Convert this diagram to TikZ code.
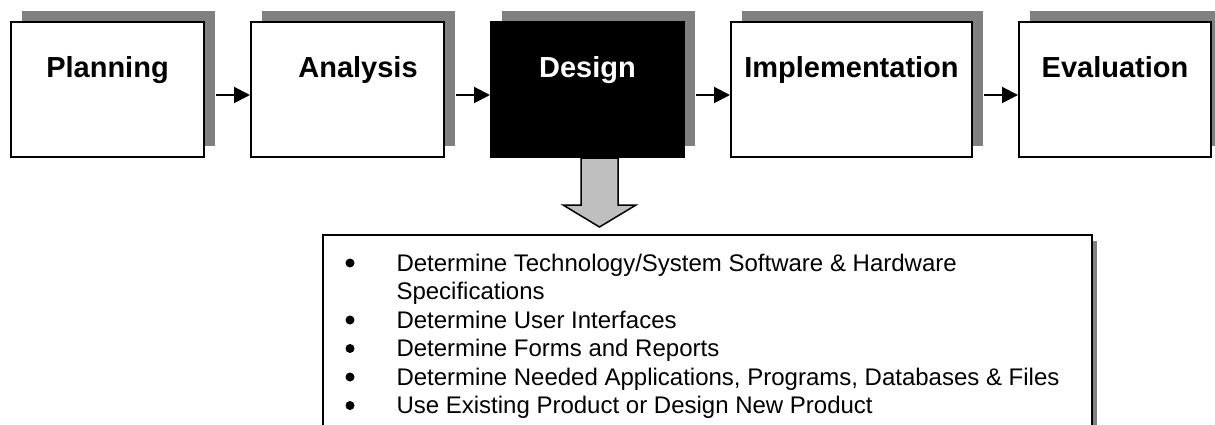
\documentclass[tikz,border=0pt]{standalone}
\usepackage{fontspec}
\setmainfont{Liberation Sans}
\usetikzlibrary{arrows.meta,shadows}

\definecolor{shadowgray}{gray}{0.5}
\definecolor{arrowgray}{gray}{0.75}

\tikzset{
    stagebox/.style={draw=black, line width=2pt, fill=white, inner sep=0pt,
        minimum height=135pt,
        drop shadow={shadow xshift=11pt, shadow yshift=11pt,
            fill=shadowgray, opacity=1}},
    stagetext/.style={anchor=base, font=\fontsize{29}{34}\selectfont\bfseries},
    flowarrow/.style={line width=2pt, -{Triangle[length=16pt,width=16pt]}},
    itemtext/.style={anchor=base west, font=\fontsize{24}{28.5}\selectfont},
    itemdot/.style={circle, fill=black, inner sep=0pt, minimum size=9pt}
}

\begin{document}
\begin{tikzpicture}[x=1pt, y=-1pt]
    \useasboundingbox (0,0) rectangle (1215,425);

    % the five stages
    \node[stagebox, minimum width=193pt] (planning) at (107.5,89.5) {};
    \node[stagebox, minimum width=193pt] (analysis) at (347.5,89.5) {};
    \node[stagebox, minimum width=193pt, fill=black] (design) at (587.5,89.5) {};
    \node[stagebox, minimum width=241pt] (implementation) at (851.5,89.5) {};
    \node[stagebox, minimum width=192pt] (evaluation) at (1115,89.5) {};

    \node[stagetext] (planningtxt) at (107.5,78) {Planning};
    \node[stagetext] (analysistxt) at (358,78) {Analysis};
    \node[stagetext, text=white] (designtxt) at (587.5,78) {Design};
    \node[stagetext] (implementationtxt) at (851.5,78) {Implementation};
    \node[stagetext] (evaluationtxt) at (1115,78) {Evaluation};

    \draw[flowarrow] ([shift={(11,5.5)}]planning.east) -- ([shift={(0,5.5)}]analysis.west);
    \draw[flowarrow] ([shift={(11,5.5)}]analysis.east) -- ([shift={(0,5.5)}]design.west);
    \draw[flowarrow] ([shift={(11,5.5)}]design.east) -- ([shift={(0,5.5)}]implementation.west);
    \draw[flowarrow] ([shift={(11,5.5)}]implementation.east) -- ([shift={(0,5.5)}]evaluation.west);

    % block arrow down to the task list
    \coordinate (arrowtop) at ([xshift=12pt]design.south);
    \filldraw[fill=arrowgray, draw=black, line width=1.5pt]
        ([xshift=-18.5pt]arrowtop) -- ++(0,47) -- ++(-18,0) -- ++(36.5,22)
        -- ++(36.5,-22) -- ++(-18,0) -- ++(0,-47) -- cycle;

    % task list
    \node[draw=black, line width=2pt, fill=white, inner sep=0pt,
        minimum width=769pt, minimum height=260pt,
        drop shadow={shadow xshift=5pt, shadow yshift=-6pt,
            fill=shadowgray, opacity=1}] (tasks) at (707.5,365) {};

    \node[itemdot] (dot1) at (350,263) {};
    \node[itemtext] (task1) at (393,271) {Determine Technology/System Software \& Hardware};
    \node[itemtext] (task1b) at (393,299.5) {Specifications};
    \node[itemdot] (dot2) at (350,320) {};
    \node[itemtext] (task2) at (393,328) {Determine User Interfaces};
    \node[itemdot] (dot3) at (350,348.5) {};
    \node[itemtext] (task3) at (393,356.5) {Determine Forms and Reports};
    \node[itemdot] (dot4) at (350,377) {};
    \node[itemtext] (task4) at (393,385) {Determine Needed Applications, Programs, Databases \& Files};
    \node[itemdot] (dot5) at (350,405.5) {};
    \node[itemtext] (task5) at (393,413.5) {Use Existing Product or Design New Product};
\end{tikzpicture}
\end{document}
